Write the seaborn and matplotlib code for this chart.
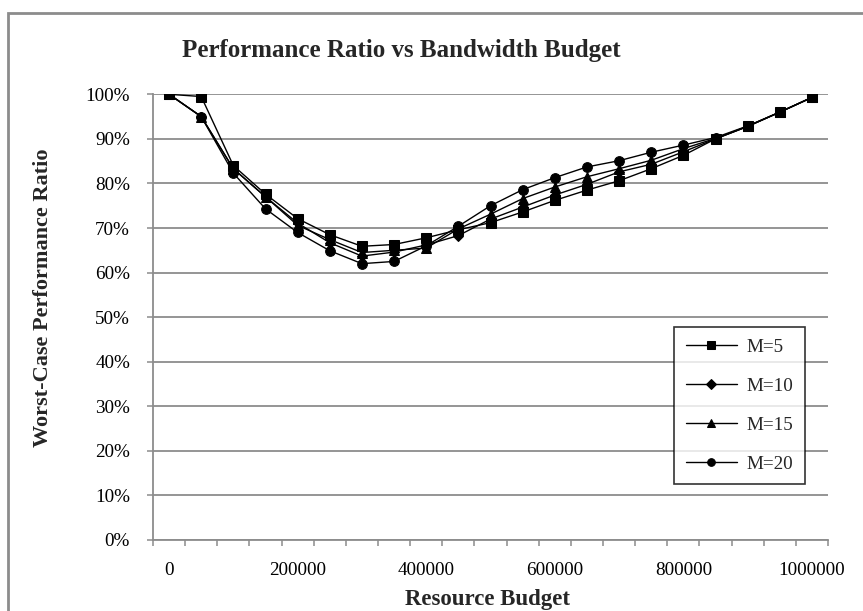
import numpy as np
import pandas as pd
import matplotlib
matplotlib.use("Agg")
import matplotlib.pyplot as plt
from matplotlib.ticker import PercentFormatter, FixedLocator
from matplotlib.patches import Rectangle
import seaborn as sns

budgets = [0, 50000, 100000, 150000, 200000, 250000, 300000, 350000, 400000, 450000,
           500000, 550000, 600000, 650000, 700000, 750000, 800000, 850000, 900000, 950000, 1000000]
m5 = [100, 99.5, 84.0, 77.6, 72.1, 68.5, 65.9, 66.3, 67.8, 69.6, 71.2, 73.6, 76.2, 78.5, 80.6, 83.3, 86.3, 90.0, 92.8, 96.0, 99.3]
m10 = [100, 95.0, 83.3, 77.0, 71.1, 66.7, 63.7, 64.6, 66.2, 68.3, 72.0, 74.7, 77.4, 79.8, 82.6, 84.3, 87.1, 90.0, 92.8, 96.0, 99.3]
m15 = [100, 95.0, 83.3, 77.0, 70.6, 67.4, 64.5, 65.0, 65.5, 69.8, 73.1, 76.6, 79.2, 81.5, 83.3, 85.2, 87.8, 90.1, 92.8, 96.0, 99.3]
m20 = [100, 95.0, 82.3, 74.3, 69.0, 64.9, 62.0, 62.5, 66.0, 70.4, 75.0, 78.6, 81.3, 83.7, 85.1, 87.0, 88.6, 90.3, 92.9, 96.0, 99.3]
series_names = ["M=5", "M=10", "M=15", "M=20"]
series_vals = [m5, m10, m15, m20]
label_budgets = [0, 200000, 400000, 600000, 800000, 1000000]

rows = []
for name, vals in zip(series_names, series_vals):
    for i, (b, v) in enumerate(zip(budgets, vals)):
        rows.append({"pos": i, "budget": b, "val": v, "M": name})
df = pd.DataFrame(rows)

sns.set_theme(style="white")
plt.rcParams['font.family'] = ['Liberation Serif', 'DejaVu Serif']

W, H = 863, 611
fig = plt.figure(figsize=(W / 100, H / 100), dpi=100)
ax = fig.add_axes([153 / W, 1 - 540 / H, (828 - 153) / W, (540 - 94.3) / H])

fs = 13.8
sns.lineplot(data=df, x="pos", y="val", hue="M", style="M",
             markers={"M=5": "s", "M=10": "D", "M=15": "^", "M=20": "o"},
             dashes=False, palette=["black"] * 4, hue_order=series_names,
             style_order=series_names, markersize=7, linewidth=1,
             markeredgecolor="black", ax=ax)
for ln in ax.lines:
    if ln.get_marker() == "D":
        ln.set_markersize(5.5)

ax.set_xlim(-0.5, len(budgets) - 0.5)
ax.set_ylim(0, 100)
ax.yaxis.set_major_locator(FixedLocator(np.arange(0, 101, 10)))
ax.yaxis.set_major_formatter(PercentFormatter(decimals=0))
ax.grid(axis="y", color="#8c8c8c", linewidth=1.3)
ax.grid(axis="x", visible=False)

label_pos = [budgets.index(b) for b in label_budgets]
ax.set_xticks(label_pos)
ax.set_xticklabels([str(b) for b in label_budgets])
ax.set_xticks(np.arange(-0.5, len(budgets), 1), minor=True)
ax.tick_params(axis="x", which="major", length=0, pad=16, labelsize=fs, colors="black")
ax.tick_params(axis="x", which="minor", length=4.5, width=1.1, color="#8c8c8c", direction="out", bottom=True)
ax.tick_params(axis="y", which="major", length=4.5, width=1.1, color="#8c8c8c", direction="out", left=True, pad=12, labelsize=fs, labelcolor="black")

for s in ["top", "right"]:
    ax.spines[s].set_visible(False)
for s in ["left", "bottom"]:
    ax.spines[s].set_color("#8c8c8c")
    ax.spines[s].set_linewidth(1.3)

ax.set_xlabel("")
ax.set_ylabel("")
fig.text(487 / W, 1 - 600 / H, "Resource Budget", ha="center", va="center",
         fontsize=16.5, fontweight="bold")
fig.text(43 / W, 1 - 298 / H, "Worst-Case Performance Ratio", ha="center", va="center",
         rotation=90, fontsize=16, fontweight="bold")
fig.text(401 / W, 1 - 57 / H, "Performance Ratio vs Bandwidth Budget", ha="center",
         va="baseline", fontsize=18, fontweight="bold")

leg = ax.legend(loc="upper left", bbox_to_anchor=(674 / W, 1 - 327 / H),
                bbox_transform=fig.transFigure, frameon=True, fancybox=False,
                edgecolor="black", fontsize=fs, handlelength=2.7, labelspacing=1.12,
                borderpad=0.6, handletextpad=0.5, borderaxespad=0)
leg.get_frame().set_linewidth(1.2)
for h in leg.legend_handles:
    h.set_markersize(5.5)

fig.patches.append(Rectangle((8 / W, -0.05), 1.1, 1 - 13 / H + 0.05, transform=fig.transFigure,
                             fill=False, edgecolor="#8c8c8c", linewidth=2, figure=fig))

fig.savefig("out.png", dpi=100)
